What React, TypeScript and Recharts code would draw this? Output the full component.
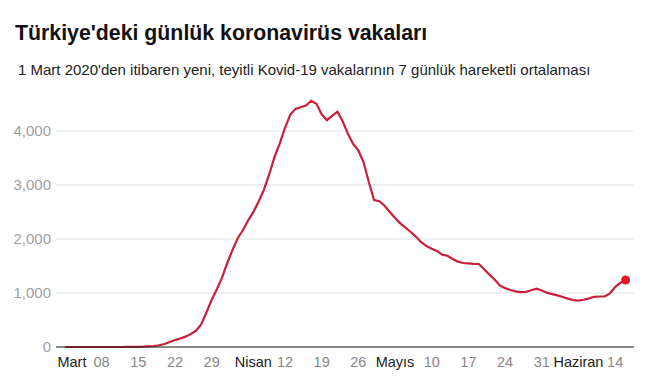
import { LineChart, Line, XAxis, YAxis, CartesianGrid } from 'recharts'

// 7 günlük hareketli ortalama, 1 Mart 2020'den (gün 0) 16 Haziran'a (gün 107)
const vakalar = [
  0, 0, 0, 0, 0, 0, 0, 0, 0, 0,
  0, 0, 1, 2, 4, 6, 11, 18, 32, 55,
  92, 128, 158, 192, 238, 300, 420, 640, 870, 1070,
  1290, 1560, 1800, 2020, 2167, 2350, 2506, 2700, 2920, 3200,
  3520, 3772, 4060, 4300, 4410, 4440, 4470, 4560, 4505, 4310,
  4200, 4280, 4358, 4180, 3950, 3760, 3640, 3420, 3050, 2722,
  2700, 2615, 2500, 2390, 2290, 2210, 2130, 2040, 1940, 1870,
  1820, 1780, 1710, 1690, 1630, 1580, 1555, 1550, 1540, 1537,
  1440, 1340, 1250, 1140, 1090, 1056, 1030, 1015, 1020, 1050,
  1080, 1045, 1006, 980, 955, 925, 895, 868, 858, 875,
  900, 930, 935, 935, 994, 1110, 1190, 1240,
]

const xTicks = [0, 7, 14, 21, 28, 35, 42, 49, 56, 63, 70, 77, 84, 91, 98, 105]
const xLabels = ['Mart', '08', '15', '22', '29', 'Nisan', '12', '19', '26', 'Mayıs', '10', '17', '24', '31', 'Haziran', '14']
const aylar = ['Mart', 'Nisan', 'Mayıs', 'Haziran']
const yTicks = [0, 1000, 2000, 3000, 4000]

const data = vakalar.map((v, i) => ({ gun: i, vaka: v }))

const KIRMIZI = '#c8203a'
const FONT = '"Liberation Sans", Arial, sans-serif'

// ay etiketleri orijinalde biraz sağa kaymış
const kayma: Record<string, number> = { Mart: 7, Nisan: 5 }

function XTick({ x, y, payload }: any) {
  const label = xLabels[xTicks.indexOf(payload.value)]
  const ay = aylar.includes(label)
  return (
    <text x={x + (kayma[label] || 0)} y={y + 12} textAnchor="middle" fontSize={14.5} fontFamily={FONT} fill={ay ? '#222' : '#888'}>
      {label}
    </text>
  )
}

function YTick({ x, y, payload }: any) {
  return (
    <text x={x + 1} y={y + 5} textAnchor="end" fontSize={15} fontFamily={FONT} fill="#a0a0a0">
      {payload.value.toLocaleString('en-US')}
    </text>
  )
}

function SonNokta({ cx, cy, index }: any) {
  if (index !== vakalar.length - 1) return null
  return <circle key="son" cx={cx} cy={cy} r={4.5} fill="#e0182d" />
}

export default function App() {
  return (
    <div style={{ position: 'absolute', left: 0, top: 0, width: 657, height: 384, background: '#fff', fontFamily: FONT }}>
      <div style={{ position: 'absolute', left: 15, top: 21, fontSize: 21.3, fontWeight: 'bold', color: '#111' }}>
        Türkiye'deki günlük koronavirüs vakaları
      </div>
      <div style={{ position: 'absolute', left: 18, top: 61, fontSize: 15, color: '#222' }}>
        1 Mart 2020'den itibaren yeni, teyitli Kovid-19 vakalarının 7 günlük hareketli ortalaması
      </div>
      <div style={{ position: 'absolute', left: 0, top: 0 }}>
        <LineChart width={657} height={384} data={data} margin={{ top: 77, right: 23, bottom: 7, left: 0 }}>
          <CartesianGrid vertical={false} stroke="#e2e2e2" horizontalValues={yTicks} />
          <XAxis
            type="number"
            dataKey="gun"
            height={30}
            domain={[-1.7, 108.6]}
            ticks={xTicks}
            tick={<XTick />}
            tickLine={false}
            axisLine={{ stroke: '#222' }}
            interval={0}
            allowDataOverflow
          />
          <YAxis
            width={56}
            domain={[0, 5000]}
            ticks={yTicks}
            tick={<YTick />}
            axisLine={false}
            tickLine={false}
            tickMargin={0}
          />
          <Line
            type="linear"
            dataKey="vaka"
            stroke={KIRMIZI}
            strokeWidth={2.2}
            dot={<SonNokta />}
            activeDot={false}
            isAnimationActive={false}
          />
        </LineChart>
      </div>
    </div>
  )
}
